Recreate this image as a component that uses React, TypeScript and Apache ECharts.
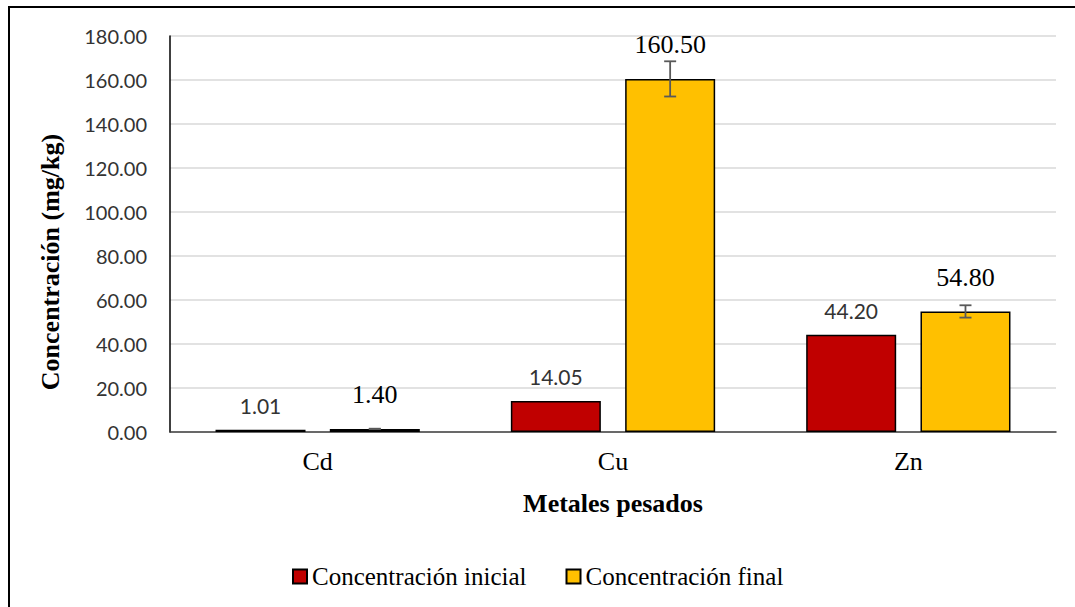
import React, { useEffect, useRef } from "react";
import * as echarts from "echarts";

const categories = ["Cd", "Cu", "Zn"];
const initialValues = [1.01, 14.05, 44.2];
const finalValues = [1.4, 160.5, 54.8];
const finalErrors = [0.1, 8.0, 2.8];
const seriesNames = ["Concentración inicial", "Concentración final"];
const yTitle = "Concentración (mg/kg)";
const xTitle = "Metales pesados";

const BAR_W = 90;
const BAR_GAP = 0.27;
const OFFSET = (2 * BAR_W + BAR_GAP * BAR_W) / 2 - BAR_W / 2;

export default function App() {
  const ref = useRef<HTMLDivElement>(null);

  useEffect(() => {
    if (!ref.current) return;
    const chart = echarts.init(ref.current, undefined, { renderer: "svg" });
    const serif = "Liberation Serif";
    const sans = "Lato";
    chart.setOption({
      animation: false,
      backgroundColor: "#ffffff",
      grid: { left: 170, right: 19, top: 36, bottom: 175, containLabel: false },
      legend: {
        data: seriesNames,
        left: 287,
        top: 559,
        itemWidth: 14,
        itemHeight: 14,
        itemGap: 39,
        icon: "rect",
        textStyle: { fontFamily: serif, fontSize: 25, color: "#000" },
      },
      xAxis: {
        type: "category",
        data: categories,
        axisLine: { show: true, lineStyle: { color: "#404040", width: 1.5 } },
        axisTick: { show: false },
        axisLabel: { fontFamily: serif, fontSize: 26, color: "#000", margin: 16 },
        splitLine: { show: false },
      },
      yAxis: {
        type: "value",
        min: 0,
        max: 180,
        interval: 20,
        axisLine: { show: true, lineStyle: { color: "#000", width: 1.5 } },
        axisTick: { show: false },
        axisLabel: {
          fontFamily: sans,
          fontSize: 20,
          color: "#333",
          margin: 23,
          formatter: (v: number) => v.toFixed(2),
        },
        splitLine: { show: true, lineStyle: { color: "#D9D9D9", width: 1.5 } },
      },
      series: [
        {
          name: seriesNames[0],
          type: "bar",
          data: initialValues,
          barWidth: BAR_W,
          barGap: BAR_GAP * 100 + "%",
          itemStyle: { color: "#C00000", borderColor: "#000", borderWidth: 1.5 },
          label: {
            show: true,
            position: "top",
            distance: 14,
            fontFamily: sans,
            fontSize: 21,
            color: "#333",
            formatter: (p: any) => Number(p.value).toFixed(2),
          },
        },
        {
          name: seriesNames[1],
          type: "bar",
          data: finalValues,
          barWidth: BAR_W,
          barGap: BAR_GAP * 100 + "%",
          itemStyle: { color: "#FFC000", borderColor: "#000", borderWidth: 1.5 },
          label: {
            show: true,
            position: "top",
            distance: 21,
            fontFamily: serif,
            fontSize: 26,
            color: "#000",
            formatter: (p: any) => "{s|" + Number(p.value).toFixed(2) + "}",
            rich: {
              s: { fontFamily: serif, fontSize: 26, fontWeight: "normal", color: "#000" },
            },
          },
        },
        {
          name: "errores",
          type: "custom",
          silent: true,
          z: 10,
          encode: { x: 0, y: 1 },
          data: categories.map((_, i) => [i, finalValues[i], finalErrors[i]]),
          renderItem: (params: any, api: any) => {
            const idx = api.value(0);
            const val = api.value(1);
            const err = api.value(2);
            const hi = api.coord([idx, val + err]);
            const lo = api.coord([idx, val - err]);
            const x = hi[0] + OFFSET;
            const style = { stroke: "#595959", lineWidth: 1.8 };
            return {
              type: "group",
              children: [
                { type: "line", shape: { x1: x, y1: hi[1], x2: x, y2: lo[1] }, style },
                { type: "line", shape: { x1: x - 6, y1: hi[1], x2: x + 6, y2: hi[1] }, style },
                { type: "line", shape: { x1: x - 6, y1: lo[1], x2: x + 6, y2: lo[1] }, style },
              ],
            };
          },
        },
      ],
      graphic: [
        {
          type: "rect",
          silent: true,
          shape: { x: 9, y: 7, width: 1200, height: 800 },
          style: { fill: "none", stroke: "#000", lineWidth: 2 },
        },
        {
          type: "text",
          x: 50,
          y: 262,
          rotation: Math.PI / 2,
          style: {
            text: yTitle,
            font: "bold 26px " + serif,
            fill: "#000",
            align: "center",
            verticalAlign: "middle",
          },
        },
        {
          type: "text",
          x: 613,
          y: 503,
          style: {
            text: xTitle,
            font: "bold 26px " + serif,
            fill: "#000",
            align: "center",
            verticalAlign: "middle",
          },
        },
      ],
    });
    return () => chart.dispose();
  }, []);

  return (
    <div
      ref={ref}
      style={{ position: "fixed", left: 0, top: 0, width: 1075, height: 607 }}
    />
  );
}
